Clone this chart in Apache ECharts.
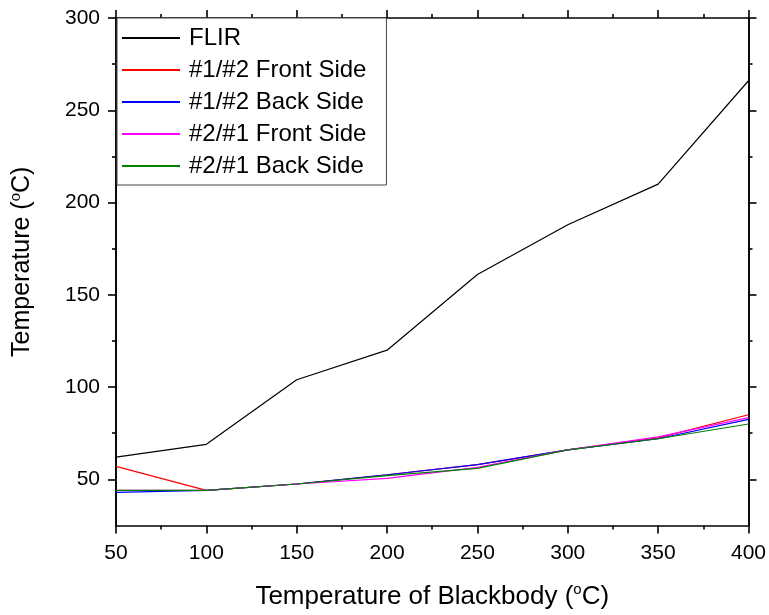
<!DOCTYPE html>
<html>
<head>
<meta charset="utf-8">
<script src="https://cdn.jsdelivr.net/npm/echarts@6/dist/echarts.min.js"></script>
<style>html,body{margin:0;padding:0;background:#fff}#c{width:769px;height:615px}</style>
</head>
<body>
<div id="c"></div>
<script>
const blackbody = [50, 100, 150, 200, 250, 300, 350, 400];
const flir      = [62, 69, 104, 120, 161, 188, 210, 266];
const front12   = [57, 44, 47.5, 52.5, 58, 66, 72.5, 85];
const back12    = [43, 44, 47.5, 52.5, 58, 66, 72, 82.5];
const front21   = [44, 44, 47.5, 50.5, 56.5, 66, 73, 83.5];
const back21    = [44, 44, 47.5, 52, 56, 66, 72, 80];
const seriesNames = ['FLIR', '#1/#2 Front Side', '#1/#2 Back Side', '#2/#1 Front Side', '#2/#1 Back Side'];
const seriesColors = ['#000000', '#ff0000', '#0000ff', '#ff00ff', '#008000'];
const yMajorTicks = [50, 100, 150, 200, 250, 300];
const yMinorTicks = [75, 125, 175, 225, 275];

const FONT = 'Liberation Sans, Arial, sans-serif';
const allData = [flir, front12, back12, front21, back21];

const axisLine = { show: true, lineStyle: { color: '#000', width: 1.6 } };
const supRich = { sup: { fontSize: 15, fontFamily: FONT, color: '#000', padding: [0, 0, 14, 0] } };

function yAxisDef(pos, major, withLabel) {
  return {
    type: 'value', position: pos, min: 25, max: 300,
    axisLine: axisLine,
    splitLine: { show: false },
    axisTick: { show: true, inside: false, length: major ? 8 : 4,
      customValues: major ? yMajorTicks : yMinorTicks,
      lineStyle: { color: '#000', width: 1.6 } },
    axisLabel: withLabel ? { show: true, customValues: yMajorTicks, margin: 16,
      color: '#000', fontSize: 21, fontFamily: FONT } : { show: false },
    name: withLabel ? 'Temperature ({sup|o}C)' : '',
    nameLocation: 'middle', nameGap: 79, nameRotate: 90,
    nameTextStyle: { color: '#000', fontSize: 25, fontFamily: FONT, rich: supRich, padding: [0, 0, 0, 20] }
  };
}

function xAxisDef(pos, withLabel) {
  return {
    type: 'value', position: pos, min: 50, max: 400, interval: 50,
    axisLine: axisLine,
    splitLine: { show: false },
    minorSplitLine: { show: false },
    axisTick: { show: true, inside: false, length: 8, lineStyle: { color: '#000', width: 1.6 } },
    minorTick: { show: true, splitNumber: 2, length: 4, lineStyle: { color: '#000', width: 1.6 } },
    axisLabel: withLabel ? { show: true, margin: 17, color: '#000', fontSize: 21, fontFamily: FONT } : { show: false },
    name: withLabel ? 'Temperature of Blackbody ({sup|o}C)' : '',
    nameLocation: 'middle', nameGap: 57,
    nameTextStyle: { color: '#000', fontSize: 26, fontFamily: FONT, rich: supRich }
  };
}

const chart = echarts.init(document.getElementById('c'), null, { renderer: 'canvas' });
chart.setOption({
  animation: false,
  backgroundColor: '#fff',
  grid: { left: 116, right: 20, top: 18, bottom: 87, containLabel: false },
  xAxis: [xAxisDef('bottom', true), xAxisDef('top', false)],
  yAxis: [yAxisDef('left', true, true), yAxisDef('left', false, false),
          yAxisDef('right', true, false), yAxisDef('right', false, false)],
  legend: {
    orient: 'vertical', left: 117, top: 18,
    data: seriesNames,
    backgroundColor: '#fff', borderColor: '#444', borderWidth: 1,
    padding: [8, 20, 7, 4],
    itemWidth: 58, itemHeight: 22, itemGap: 8,
    itemStyle: { opacity: 0 },
    textStyle: { color: '#000', fontSize: 24, fontFamily: FONT, lineHeight: 22, padding: [0, 0, 0, 4] },
    selectedMode: false
  },
  series: allData.map((d, i) => ({
    name: seriesNames[i], type: 'line',
    xAxisIndex: 0, yAxisIndex: 0,
    data: blackbody.map((x, j) => [x, d[j]]),
    symbol: 'none',
    lineStyle: { color: seriesColors[i], width: 1.2 },
    itemStyle: { color: seriesColors[i] },
    z: 2 + i
  }))
});
</script>
</body>
</html>
